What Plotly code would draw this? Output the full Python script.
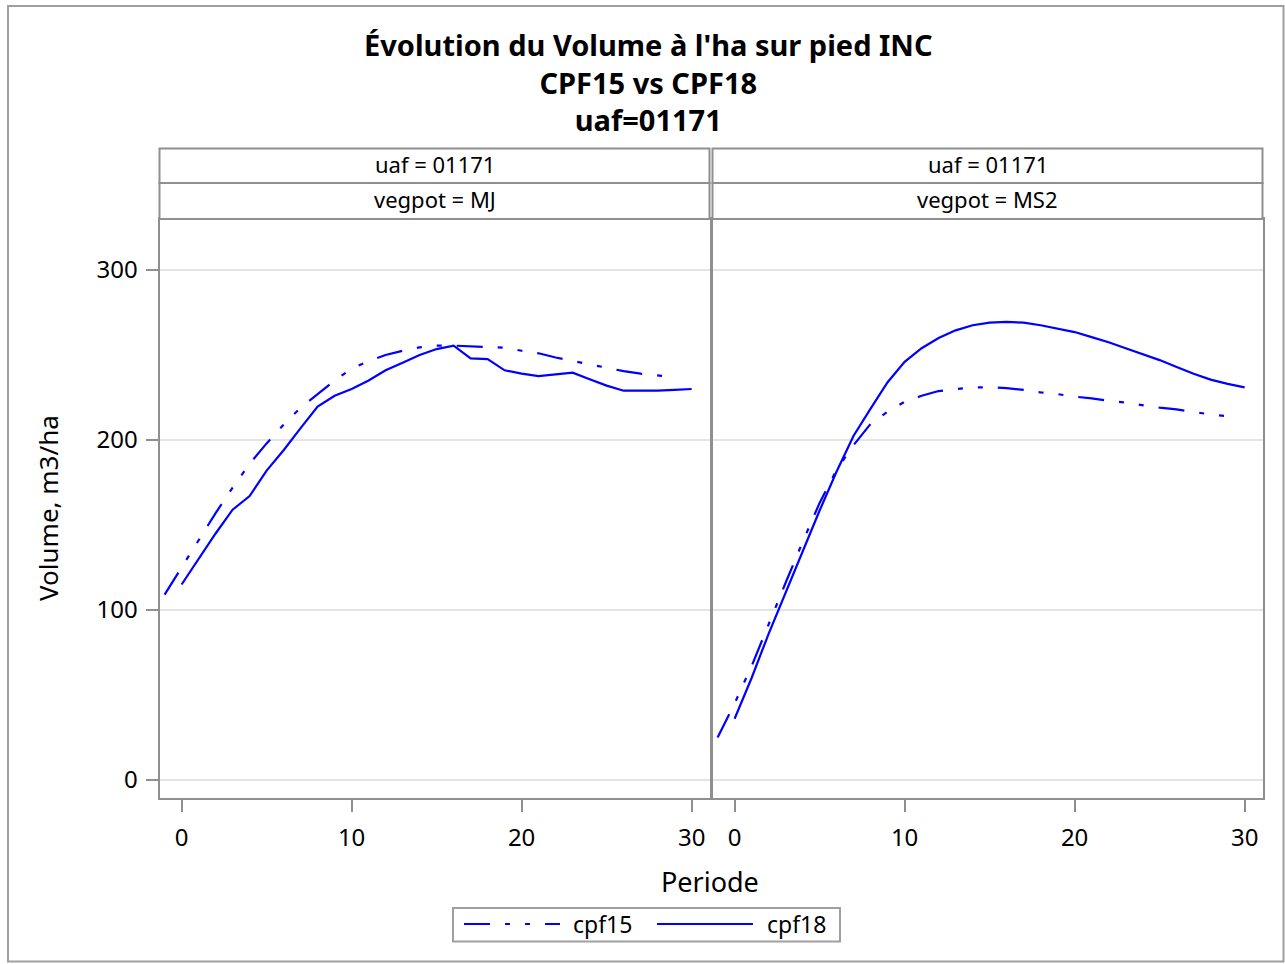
import plotly.graph_objects as go

# ---------------- data ----------------
periods_cpf15 = list(range(-1, 30))
periods_cpf18 = list(range(0, 31))

mj_cpf15 = [109, 125, 141, 157, 172, 186, 198, 209, 219, 227, 235, 242, 246.5, 250, 252.5, 254.5,
            255.5, 255.5, 255, 254.5, 254.3, 252.5, 251, 248.5, 246.5, 244.5, 242.5, 240.5, 239, 238, 237]
mj_cpf18 = [115, 130, 145, 159, 167, 182, 194, 207, 219.6, 226, 230, 235, 241, 245.5, 250, 253.5,
            255.5, 248, 247.6, 241, 239, 237.6, 238.6, 239.6, 235.7, 232, 229, 229, 229, 229.5, 230]

ms2_cpf15 = [25, 45, 67, 92, 116, 140, 163, 182.5, 197, 209.5, 216.7, 222.5, 226, 228.8, 230, 231,
             231, 230.5, 229.5, 228, 227, 225.5, 224.5, 223, 222, 220.5, 219, 218, 216.5, 215, 214]
ms2_cpf18 = [36, 60, 86, 110.5, 135, 158.5, 181.5, 202.5, 218.5, 234, 246, 254, 260, 264.5, 267.5, 269,
             269.5, 269, 267.5, 265.5, 263.5, 260.5, 257.5, 254, 250.5, 247, 243, 239, 235.5, 233, 231]

x_ticks = [0, 10, 20, 30]
y_ticks = [0, 100, 200, 300]
panel_uaf = ["uaf = 01171", "uaf = 01171"]
panel_vegpot = ["vegpot = MJ", "vegpot = MS2"]
series_names = ["cpf15", "cpf18"]
title_lines = ["Évolution du Volume à l'ha sur pied INC", "CPF15 vs CPF18", "uaf=01171"]

# ---------------- layout helpers ----------------
W, H = 1285, 964
def px(x):
    return x / W
def py(y):
    return 1 - y / H

FONT = "Noto Sans"
BLUE = "#0000ff"
GRAY = "#8f8f8f"
DASHDOT = "26px,15px,5px,15px,5px,15px"
LW = 2.2

fig = go.Figure()

fig.add_trace(go.Scatter(x=periods_cpf15, y=mj_cpf15, mode="lines", name=series_names[0],
                         line=dict(color=BLUE, width=LW, dash=DASHDOT), xaxis="x", yaxis="y", showlegend=False))
fig.add_trace(go.Scatter(x=periods_cpf18, y=mj_cpf18, mode="lines", name=series_names[1],
                         line=dict(color=BLUE, width=LW), xaxis="x", yaxis="y", showlegend=False))
fig.add_trace(go.Scatter(x=periods_cpf15, y=ms2_cpf15, mode="lines", name=series_names[0],
                         line=dict(color=BLUE, width=LW, dash=DASHDOT), xaxis="x2", yaxis="y2", showlegend=False))
fig.add_trace(go.Scatter(x=periods_cpf18, y=ms2_cpf18, mode="lines", name=series_names[1],
                         line=dict(color=BLUE, width=LW), xaxis="x2", yaxis="y2", showlegend=False))

xr = [-1.3, 31.05]
yr = [-10.3, 330]
ydom = [py(797.5), py(219)]

common_x = dict(range=xr, tickvals=x_ticks, showgrid=False, zeroline=False, showline=True,
                linecolor=GRAY, linewidth=2, mirror=True, ticks="outside", ticklen=12, tickwidth=2,
                tickcolor=GRAY, ticklabelstandoff=6,
                tickfont=dict(family=FONT, size=24, color="black"))
common_y = dict(range=yr, tickvals=y_ticks, showgrid=True, gridcolor="#e4e4e4", gridwidth=2,
                zeroline=False, showline=True, linecolor=GRAY, linewidth=2, mirror=True)

fig.update_layout(
    width=W, height=H,
    margin=dict(l=0, r=0, t=0, b=0),
    paper_bgcolor="white", plot_bgcolor="white",
    showlegend=False,
    xaxis=dict(domain=[px(159.5), px(709.5)], anchor="y", **common_x),
    xaxis2=dict(domain=[px(712.5), px(1262.5)], anchor="y2", **common_x),
    yaxis=dict(domain=ydom, anchor="x", ticks="outside", ticklen=12, tickwidth=2, tickcolor=GRAY,
               ticklabelstandoff=3,
               tickfont=dict(family=FONT, size=24, color="black"), **common_y),
    yaxis2=dict(domain=ydom, anchor="x2", matches="y", showticklabels=False, ticks="", **common_y),
)

shapes = []
annotations = []

# outer frame
shapes.append(dict(type="rect", xref="paper", yref="paper", x0=px(8), x1=px(1283.5), y0=py(961.5), y1=py(6),
                   line=dict(color="#a0a0a0", width=2), fillcolor="rgba(0,0,0,0)", layer="below"))

# strip headers
panels = [(159.5, 709.5), (712.5, 1262.5)]
for i, (x0, x1) in enumerate(panels):
    for (y0, y1, txt) in [(148.5, 183, panel_uaf[i]), (183, 219, panel_vegpot[i])]:
        shapes.append(dict(type="rect", xref="paper", yref="paper", x0=px(x0), x1=px(x1), y0=py(y1), y1=py(y0),
                           line=dict(color=GRAY, width=2), fillcolor="white"))
        annotations.append(dict(text=txt, xref="paper", yref="paper", x=px((x0 + x1) / 2), y=py((y0 + y1) / 2 - 2),
                                xanchor="center", yanchor="middle", showarrow=False,
                                font=dict(family=FONT, size=22, color="black")))

# title (one block of three lines)
annotations.append(dict(text="<br>".join("<b>" + t + "</b>" for t in title_lines),
                        xref="paper", yref="paper", x=px(648), y=py(82),
                        xanchor="center", yanchor="middle", align="center", showarrow=False,
                        font=dict(family=FONT, size=29, color="black")))

# axis titles
annotations.append(dict(text="Volume, m3/ha", xref="paper", yref="paper", x=px(48), y=py(508),
                        xanchor="center", yanchor="middle", textangle=-90, showarrow=False,
                        font=dict(family=FONT, size=26, color="black")))
annotations.append(dict(text="Periode", xref="paper", yref="paper", x=px(710), y=py(881),
                        xanchor="center", yanchor="middle", showarrow=False,
                        font=dict(family=FONT, size=27, color="black")))

# legend (drawn manually)
shapes.append(dict(type="rect", xref="paper", yref="paper", x0=px(453), x1=px(840), y0=py(941.5), y1=py(908),
                   line=dict(color="#a0a0a0", width=2), fillcolor="white"))
shapes.append(dict(type="line", xref="paper", yref="paper", x0=px(464), x1=px(560), y0=py(924), y1=py(924),
                   line=dict(color=BLUE, width=LW, dash=DASHDOT)))
shapes.append(dict(type="line", xref="paper", yref="paper", x0=px(657), x1=px(753), y0=py(924), y1=py(924),
                   line=dict(color=BLUE, width=LW)))
annotations.append(dict(text=series_names[0], xref="paper", yref="paper", x=px(571), y=py(924),
                        xanchor="left", yanchor="middle", showarrow=False,
                        font=dict(family=FONT, size=23, color="black")))
annotations.append(dict(text=series_names[1], xref="paper", yref="paper", x=px(765), y=py(924),
                        xanchor="left", yanchor="middle", showarrow=False,
                        font=dict(family=FONT, size=23, color="black")))

fig.update_layout(shapes=shapes, annotations=annotations)
fig.write_html("out.html", config={"displayModeBar": False},
               post_script="document.body.style.margin='0px';")
